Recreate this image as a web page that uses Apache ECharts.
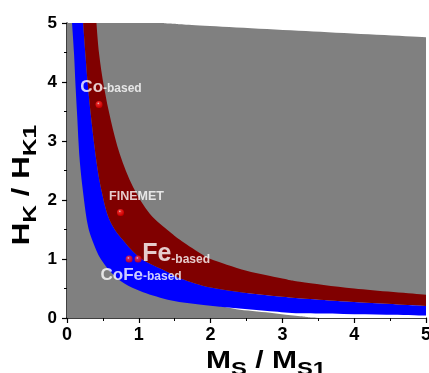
<!DOCTYPE html>
<html><head><meta charset="utf-8">
<script src="https://cdn.jsdelivr.net/npm/echarts@6/dist/echarts.min.js"></script>
<style>html,body{margin:0;padding:0;background:#fff}#c{width:429px;height:373px}</style>
</head><body><div id="c"></div>
<script>
// Boundary curves
var blueOuterX = [0.07,0.098,0.12,0.145,0.17,0.215,0.285,0.363,0.47,0.64,0.805,1.06,1.456,1.9,2.36,2.83,3.25,3.85,4.45,5.0];
var blueOuterY = [5.0,4.48,3.91,3.35,2.78,2.22,1.6,1.285,1.0,0.74,0.58,0.437,0.297,0.22,0.166,0.115,0.08,0.068,0.055,0.042];
var midX = [0.225,0.256,0.293,0.34,0.396,0.47,0.596,0.805,1.04,1.36,1.6,2.0,2.5,3.0,3.385,4.0,5.0];
var midY = [5.0,4.48,3.91,3.35,2.78,2.22,1.653,1.285,1.0,0.805,0.66,0.515,0.425,0.36,0.32,0.27,0.205];
var redOuterX = [0.41,0.447,0.516,0.61,0.735,0.92,1.153,1.43,1.6,1.89,2.0,2.5,3.0,3.245,4.0,5.0];
var redOuterY = [5.0,4.48,3.91,3.35,2.78,2.22,1.766,1.46,1.3,1.07,1.0,0.8,0.67,0.615,0.5,0.395];
var grayTopX = [0,1.2,1.43,1.85,3.43,5.0];
var grayTopY = [5.0,5.0,4.99,4.957,4.856,4.76];
var whiteLowX = [2.1,2.36,2.83,3.25,3.6,5.0];
var whiteLowY = [0.21,0.15,0.09,0.03,0,0];
var dotX = [0.446,0.745,0.865,0.99];
var dotY = [3.62,1.79,1.0,1.0];
var dotNames = ['Co-based','FINEMET','CoFe-based','Fe-based'];
var tickVals = [0,1,2,3,4,5];

function pts(xs, ys){ return xs.map(function(x,i){return [x, ys[i]];}); }
var curveA = pts(blueOuterX, blueOuterY);
var curveB = pts(midX, midY);
var curveC = pts(redOuterX, redOuterY);
var curveT = pts(grayTopX, grayTopY);
var curveE = pts(whiteLowX, whiteLowY);
var curveBright = curveB.filter(function(p){return p[0] >= 2.1;});

function rev(a){ return a.slice().reverse(); }
// smooth (Catmull-Rom) pixel path through a run of points
function runPath(p, start){
  var d = (start ? 'M' : 'L') + p[0][0] + ' ' + p[0][1];
  for (var i = 0; i < p.length - 1; i++) {
    var p0 = p[i-1] || p[i], p1 = p[i], p2 = p[i+1], p3 = p[i+2] || p[i+1];
    var c1x = p1[0] + (p2[0]-p0[0])/6, c1y = p1[1] + (p2[1]-p0[1])/6;
    var c2x = p2[0] - (p3[0]-p1[0])/6, c2y = p2[1] - (p3[1]-p1[1])/6;
    d += ' C' + c1x + ' ' + c1y + ' ' + c2x + ' ' + c2y + ' ' + p2[0] + ' ' + p2[1];
  }
  return d;
}
function bandSeries(runs, color){
  return {
    type: 'custom', clip: true, silent: true, animation: false,
    data: [[0,0]],
    renderItem: function(params, api){
      var d = '';
      runs.forEach(function(run, k){
        d += ' ' + runPath(run.map(function(q){ return api.coord(q); }), k === 0);
      });
      d += ' Z';
      return { type: 'path', shape: { pathData: d }, style: { fill: color, stroke: null } };
    }
  };
}

var FF = '"Liberation Sans", Arial, sans-serif';
var labelCfg = [
  { text: '{a|Co}{b|-based}', off: [12,-17] },
  { text: '{c|FINEMET}', off: [16,-16] },
  { text: '{a|CoFe}{b|-based}', off: [12,16] },
  { text: '{f|Fe}{b|-based}', off: [38,-5] }
];
var richLbl = {
  a: { fontSize: 17, fontWeight: 'bold', color: '#fff', fontFamily: FF, verticalAlign: 'bottom' },
  b: { fontSize: 12, fontWeight: 'bold', color: '#fff', fontFamily: FF, verticalAlign: 'bottom', padding: [0,0,1,0] },
  c: { fontSize: 12.5, fontWeight: 'bold', color: '#fff', fontFamily: FF },
  f: { fontSize: 25, fontWeight: 'bold', color: '#fff', fontFamily: FF, verticalAlign: 'bottom' }
};
var dotData = dotX.map(function(x,i){
  return { value: [x, dotY[i]], name: dotNames[i],
    label: { show: true, position: 'inside', formatter: labelCfg[i].text, offset: labelCfg[i].off, rich: richLbl } };
});

var chart = echarts.init(document.getElementById('c'), null, {renderer: 'canvas'});
var axisCommon = {
  type: 'value', min: 0, max: 5, interval: 1,
  axisLine: { show: true, onZero: false, lineStyle: { color: '#000', width: 1.5 } },
  axisTick: { show: true, inside: false, length: 5, lineStyle: { color: '#000', width: 1.2 } },
  minorTick: { show: true, splitNumber: 2, length: 3, lineStyle: { color: '#000', width: 1 } },
  splitLine: { show: false },
  axisLabel: { color: '#000', fontSize: 17, fontWeight: 'bold', fontFamily: FF,
    formatter: function(v){ return tickVals.indexOf(v) >= 0 ? String(v) : ''; } }
};
var titleRich = {
  m: { fontSize: 24, fontWeight: 'bold', fill: '#000', fontFamily: FF, verticalAlign: 'bottom' },
  s: { fontSize: 19, fontWeight: 'bold', fill: '#000', fontFamily: FF, verticalAlign: 'bottom', padding: [0,0,-6,0] }
};
chart.setOption({
  animation: false,
  backgroundColor: '#fff',
  grid: { left: 67, right: 3, top: 23, bottom: 55, containLabel: false, outerBoundsMode: 'none' },
  xAxis: Object.assign({}, axisCommon, { axisLabel: Object.assign({}, axisCommon.axisLabel, { margin: 8, fontSize: 18 }) }),
  yAxis: Object.assign({}, axisCommon, { axisLabel: Object.assign({}, axisCommon.axisLabel, { margin: 10 }) }),
  series: [
    bandSeries([[[0,0],[0,5]], curveT, [[5,0]]], '#808080'),
    bandSeries([curveE, rev(curveBright)], '#ffffff'),
    bandSeries([curveA, rev(curveB)], '#0000ff'),
    bandSeries([curveB, rev(curveC)], '#800000'),
    {
      type: 'scatter', symbolSize: 7, silent: true, z: 5,
      itemStyle: { color: { type: 'radial', x: 0.4, y: 0.35, r: 0.6,
        colorStops: [{offset:0,color:'#ffffff'},{offset:0.3,color:'#ff3030'},{offset:1,color:'#e00000'}] } },
      data: dotData
    }
  ],
  graphic: [
    { type: 'text', x: 266, y: 361, scaleX: 1.25, silent: true,
      style: { text: '{m|M}{s|S}{m| / M}{s|S1}', x: 0, y: 0, align: 'center', verticalAlign: 'middle', fontFamily: FF, rich: titleRich } },
    { type: 'text', x: 22, y: 185, rotation: Math.PI/2, scaleX: 1.3, silent: true,
      style: { text: '{m|H}{s|K}{m| / H}{s|K1}', x: 0, y: 0, align: 'center', verticalAlign: 'middle', fontFamily: FF, rich: titleRich } }
  ]
});
</script></body></html>
